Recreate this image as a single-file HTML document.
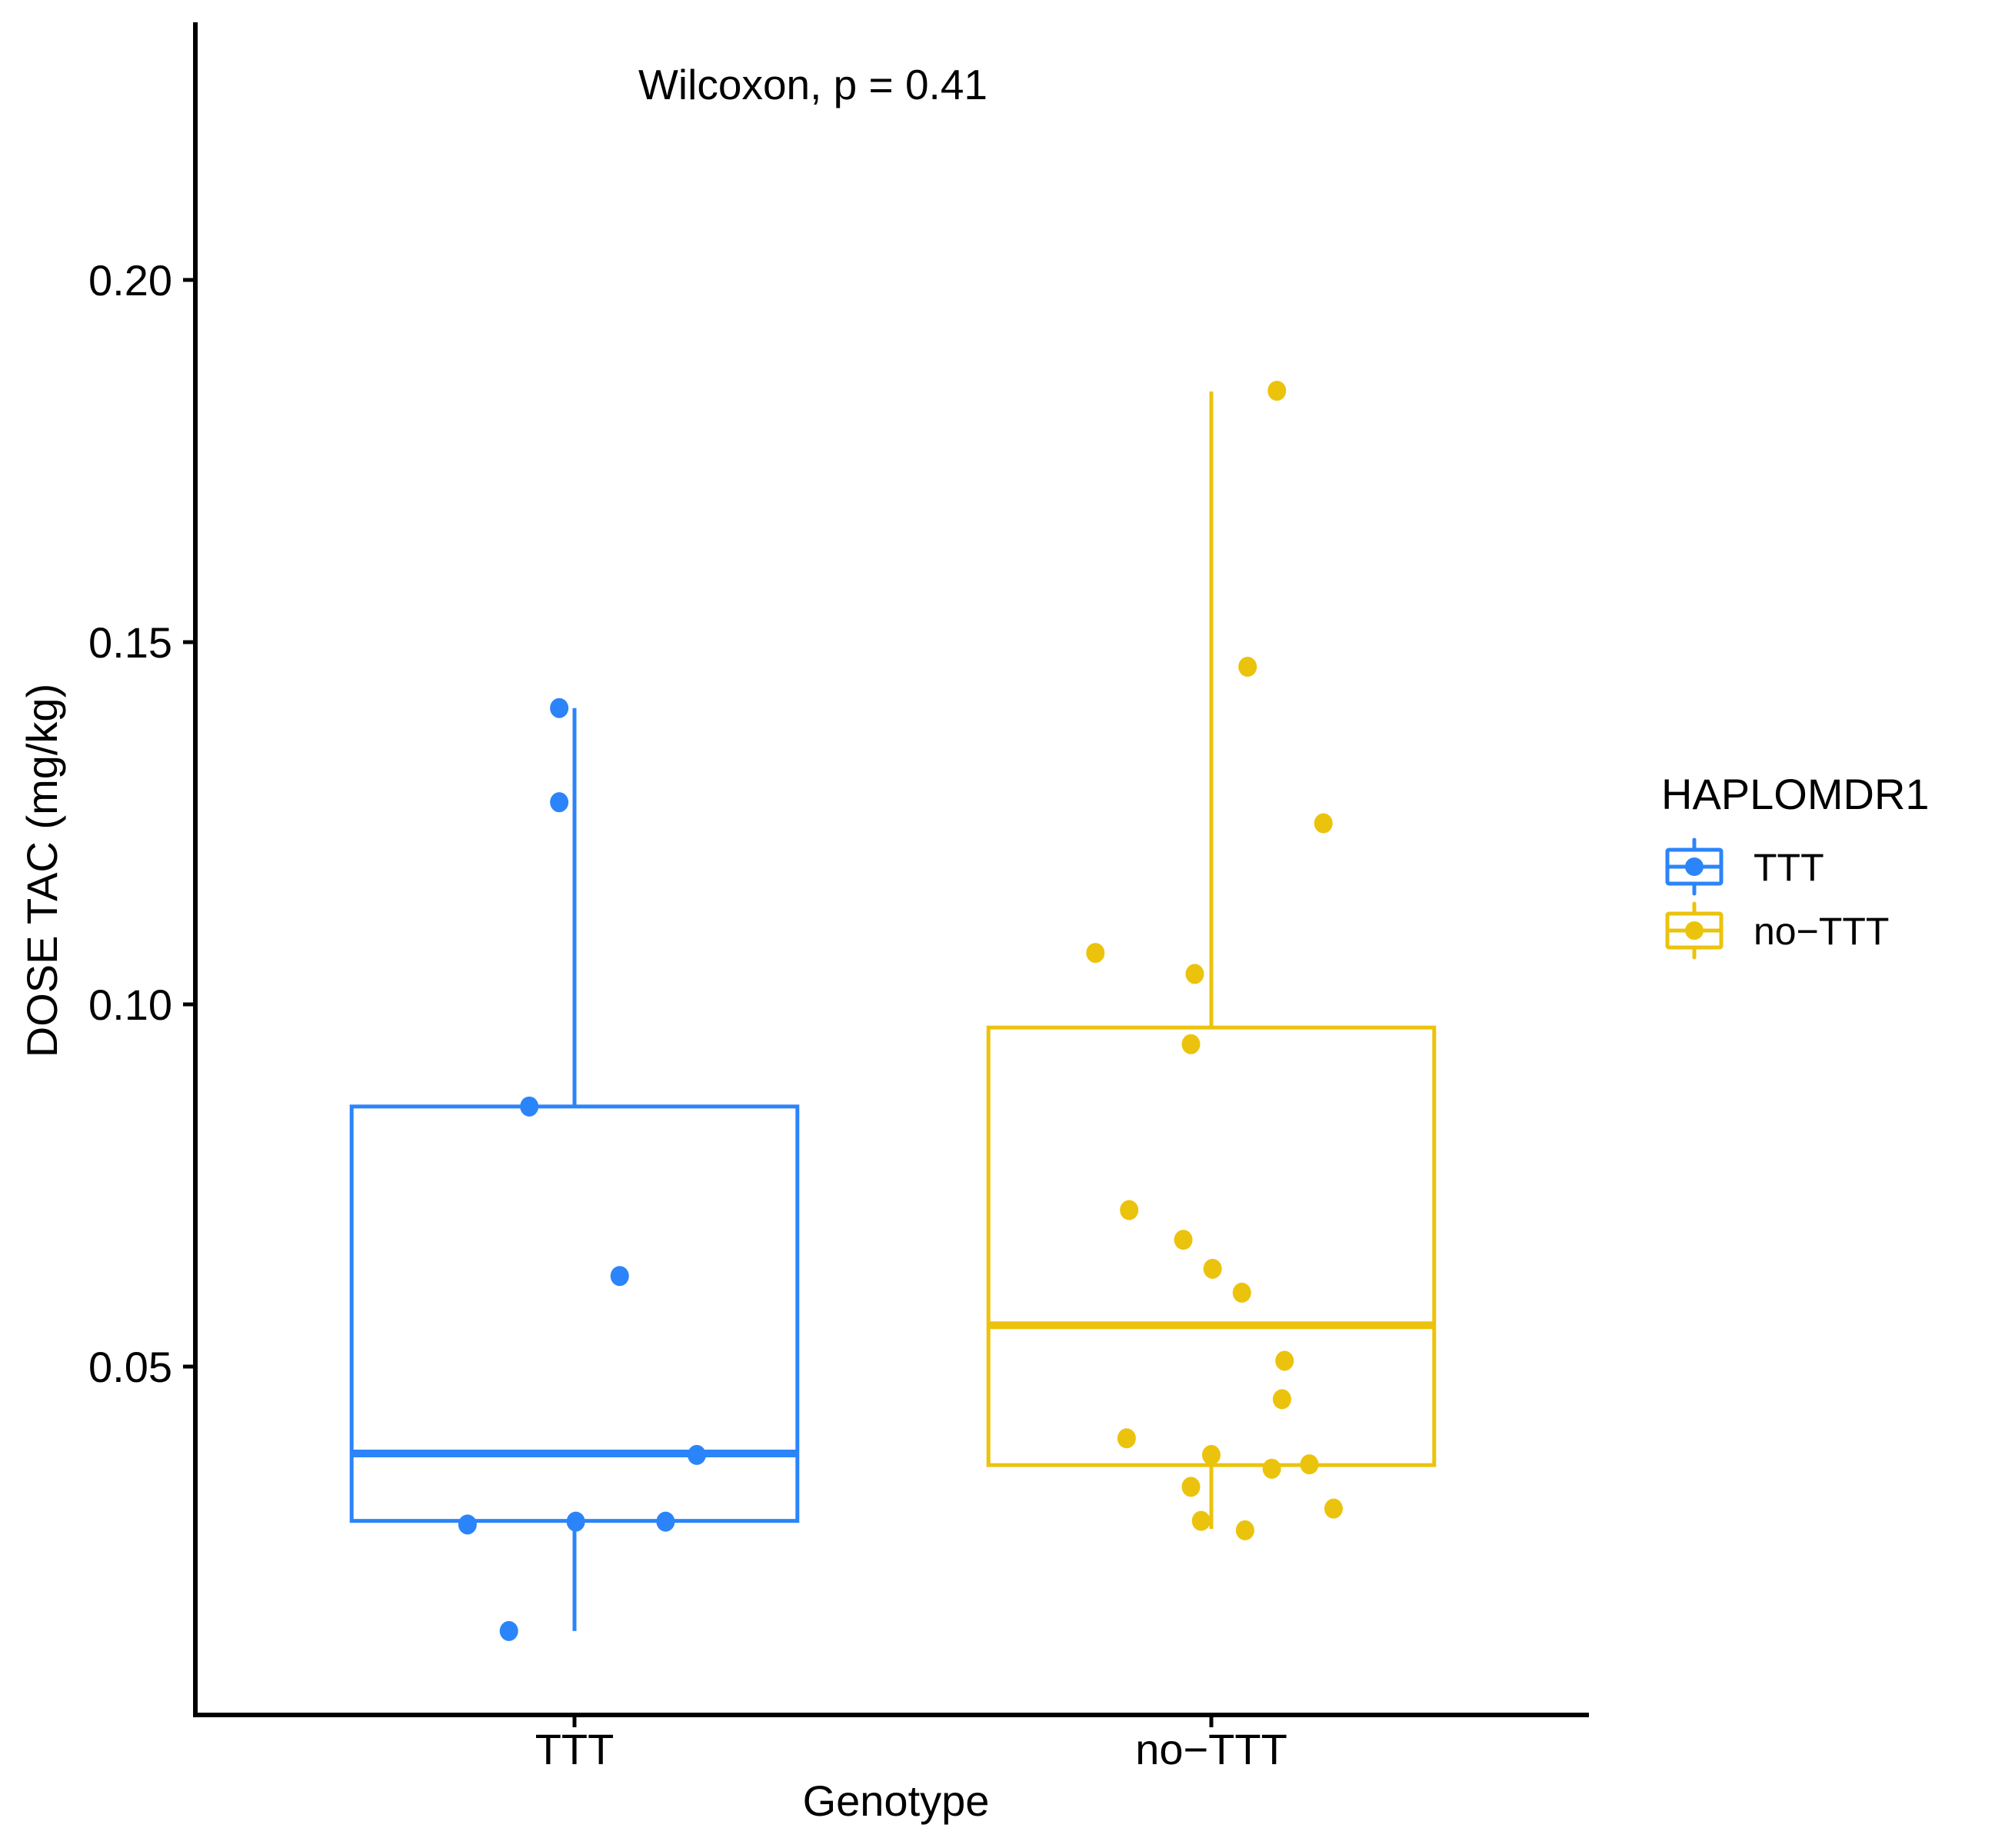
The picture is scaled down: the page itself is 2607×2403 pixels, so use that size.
<!DOCTYPE html>
<html><head><meta charset="utf-8"><style>
html,body{margin:0;padding:0;background:#fff;}
svg{display:block;font-family:"Liberation Sans",Arial,sans-serif;}
</style></head><body>
<svg id="chart" width="2607" height="2403" viewBox="0 0 2607 2403" xmlns="http://www.w3.org/2000/svg">
<rect width="2607" height="2403" fill="#fff"/>
<g id="plot"></g>
<g id="axes"></g>
<text x="1057" y="129" font-size="55" text-anchor="middle">Wilcoxon, p = 0.41</text>
<text x="1165" y="2361" font-size="56" text-anchor="middle">Genotype</text>
<text transform="translate(74,1132) rotate(-90)" font-size="56" text-anchor="middle">DOSE TAC (mg/kg)</text>
<g id="legend">
<text x="2160" y="1052" font-size="56">HAPLOMDR1</text>
</g>
</svg>
<script>
const categories = ["TTT", "no-TTT"];
const colors = ["#2B84FA", "#EBC30C"];
const yTicks = [0.05, 0.10, 0.15, 0.20];
const yTickLabels = ["0.05", "0.10", "0.15", "0.20"];
// box stats: [lowerWhisker, Q1, median, Q3, upperWhisker]
const boxTTT = [0.0135, 0.0287, 0.0380, 0.0859, 0.1409];
const boxNoTTT = [0.0276, 0.0364, 0.0557, 0.0968, 0.1846];
const pointsTTT = [0.1409, 0.1279, 0.0859, 0.0625, 0.0378, 0.0282, 0.0286, 0.0286, 0.0135];
const jitterTTT = [-0.024, -0.024, -0.071, 0.071, 0.192, -0.168, 0.002, 0.143, -0.103];
const pointsNoTTT = [0.1847, 0.1466, 0.1250, 0.1071, 0.1042, 0.0945, 0.0716, 0.0675, 0.0635, 0.0602, 0.0508, 0.0455, 0.0401, 0.0378, 0.0359, 0.0365, 0.0334, 0.0304, 0.0287, 0.0274];
const jitterNoTTT = [0.103, 0.057, 0.176, -0.182, -0.026, -0.032, -0.129, -0.044, 0.002, 0.048, 0.115, 0.111, -0.133, 0, 0.095, 0.154, -0.032, 0.192, -0.016, 0.053];

const NS = "http://www.w3.org/2000/svg";
const X0 = 254, XEND = 2066, YAXIS_BOTTOM = 2230, YTOP = 29;
const catStep = 828, catStart = 747;
function xScale(i){ return catStart + i*catStep; }
function yScale(v){ return 364 + (0.20 - v) * 9420; }
function mk(tag, attrs, parent){ const e=document.createElementNS(NS,tag); for(const k in attrs) e.setAttribute(k, attrs[k]); parent.appendChild(e); return e; }

const plot = document.getElementById('plot');
const axes = document.getElementById('axes');
const boxes = [boxTTT, boxNoTTT];
const pts = [pointsTTT, pointsNoTTT];
const jits = [jitterTTT, jitterNoTTT];
const halfW = 0.35*catStep;

boxes.forEach((b,i)=>{
  const cx = xScale(i), c = colors[i];
  const g = mk('g', {}, plot);
  
  
  const w1 = mk('line', {x1:cx, x2:cx, y1:yScale(b[3]), y2:yScale(b[4]), stroke:c, 'stroke-width':5}, g);
  
  
  const w2 = mk('line', {x1:cx, x2:cx, y1:yScale(b[1]), y2:yScale(b[0]), stroke:c, 'stroke-width':5}, g);
  
  
  const r = mk('rect', {x:cx-halfW, y:yScale(b[3]), width:2*halfW, height:yScale(b[1])-yScale(b[3]), fill:'#fff', stroke:c, 'stroke-width':5}, g);
  
  
  const m = mk('line', {x1:cx-halfW, x2:cx+halfW, y1:yScale(b[2]), y2:yScale(b[2]), stroke:c, 'stroke-width':10}, g);
  
  
});
pts.forEach((arr,i)=>{
  arr.forEach((v,j)=>{
    const p = mk('ellipse', {cx:xScale(i)+jits[i][j]*catStep, cy:yScale(v), rx:12, ry:13, fill:colors[i]}, plot);
    
    
  });
});

// axes
const ya = mk('line', {x1:X0, x2:X0, y1:YTOP, y2:YAXIS_BOTTOM+3, stroke:'#000', 'stroke-width':6}, axes);


const xa = mk('line', {x1:X0-3, x2:XEND, y1:YAXIS_BOTTOM, y2:YAXIS_BOTTOM, stroke:'#000', 'stroke-width':6}, axes);


yTicks.forEach((t,i)=>{
  const y = yScale(t);
  const tk = mk('line', {x1:X0-16, x2:X0, y1:y, y2:y, stroke:'#000', 'stroke-width':5}, axes);
  
  
  const tx = mk('text', {x:X0-30, y:y+20, 'font-size':56, 'text-anchor':'end'}, axes);
  tx.textContent = yTickLabels[i];
  
  
});
categories.forEach((c,i)=>{
  const x = xScale(i);
  const tk = mk('line', {x1:x, x2:x, y1:YAXIS_BOTTOM, y2:YAXIS_BOTTOM+16, stroke:'#000', 'stroke-width':5}, axes);
  
  
  const tx = mk('text', {x:x, y:2294, 'font-size':56, 'text-anchor':'middle'}, axes);
  tx.textContent = c.replace('-', '\u2212');
  
  
});

// legend
const leg = document.getElementById('legend');
categories.forEach((c,i)=>{
  const cy = 1127 + i*83, cx = 2203, col = colors[i];
  const g = mk('g', {}, leg);
  
  
  mk('line', {x1:cx, x2:cx, y1:cy-35, y2:cy+35, stroke:col, 'stroke-width':5, 'stroke-linecap':'round'}, g);
  mk('rect', {x:cx-35, y:cy-22, width:70, height:44, fill:'#fff', stroke:col, 'stroke-width':5, rx:2}, g);
  mk('line', {x1:cx-35, x2:cx+35, y1:cy, y2:cy, stroke:col, 'stroke-width':5}, g);
  mk('circle', {cx:cx, cy:cy, r:12, fill:col}, g);
  const t = mk('text', {x:2280, y:cy+18, 'font-size':50}, g);
  t.textContent = c.replace('-', '\u2212');
});
</script>
</body></html>
